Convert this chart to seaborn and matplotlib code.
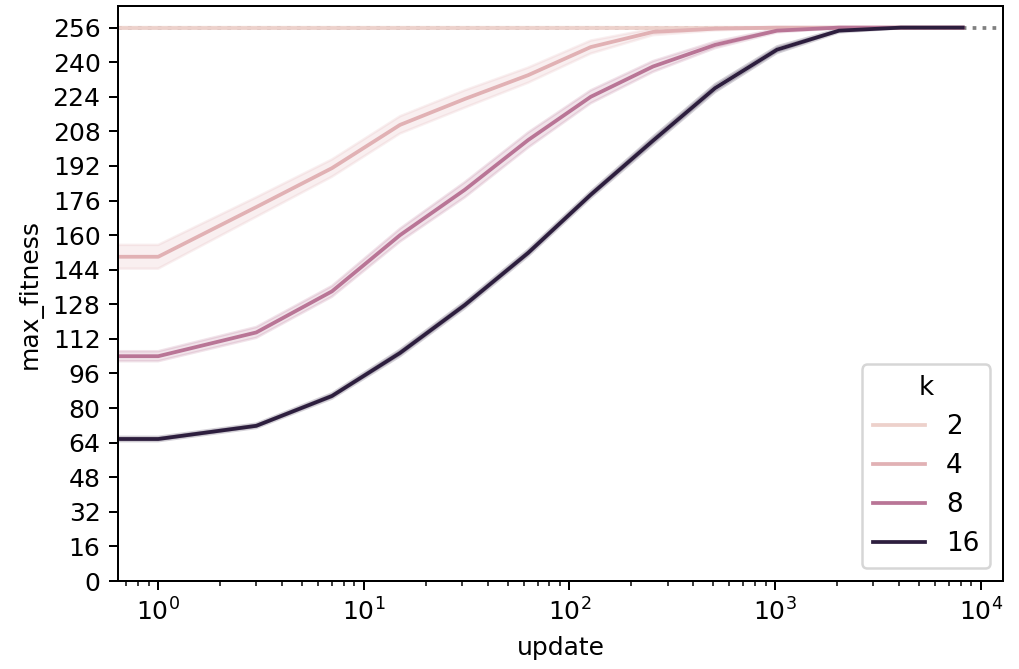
import matplotlib
matplotlib.use("Agg")
import matplotlib.pyplot as plt
import numpy as np
import pandas as pd
import seaborn as sns

# updates sampled at 2^n - 1
updates = [0, 1, 3, 7, 15, 31, 63, 127, 255, 511, 1023, 2047, 4095, 8191]

# mean max_fitness per k
fit_k2 = [256, 256, 256, 256, 256, 256, 256, 256, 256, 256, 256, 256, 256, 256]
fit_k4 = [150, 150, 173, 191, 211, 223, 234, 247, 254, 255.5, 256, 256, 256, 256]
fit_k8 = [104, 104, 115, 134, 160, 181, 204, 224, 238, 248, 254.6, 256, 256, 256]
fit_k16 = [65.7, 65.7, 71.8, 85.6, 105.5, 127.7, 151.8, 178.7, 203.7, 228, 245.8, 254.6, 256, 256]

# half-width of the shaded band per k
band_k2 = [0.4, 0.4, 0.4, 0.4, 0.4, 0.4, 0.4, 0.4, 0.3, 0.2, 0, 0, 0, 0]
band_k4 = [5.5, 5.5, 4.5, 4, 4, 4, 3.5, 3, 1.5, 0.8, 0.3, 0, 0, 0]
band_k8 = [2.3, 2.3, 2.5, 2.5, 3, 3.5, 3.5, 3, 2.5, 1.5, 0.8, 0.3, 0, 0]
band_k16 = [1, 1, 1, 1.2, 1.5, 1.5, 1.5, 1.5, 1.8, 1.8, 1.5, 0.8, 0.3, 0]

ks = [2, 4, 8, 16]
fits = [fit_k2, fit_k4, fit_k8, fit_k16]
bands = [band_k2, band_k4, band_k8, band_k16]

rows = []
for k, fit, band in zip(ks, fits, bands):
    for u, m, d in zip(updates, fit, band):
        # low / mean / high replicates: mean stays m, min-max gives the band
        for v in (m - d, m, m + d):
            rows.append({"update": u, "max_fitness": v, "k": k})
df = pd.DataFrame(rows)

fig, ax = plt.subplots(figsize=(1019 / 180, 669 / 180), dpi=180)
fig.subplots_adjust(left=0.1158, right=0.9843, bottom=0.1315, top=0.991)

ax.axhline(256, color="gray", linestyle=":", zorder=0)
sns.lineplot(data=df, x="update", y="max_fitness", hue="k",
             errorbar=("pi", 100), ax=ax)
ax.set_xscale("log")
ax.set_ylim(bottom=0)
ax.set_yticks(np.arange(0, 257, 16))
ax.legend(title="k", loc="lower right", fontsize=10.5, title_fontsize=10.5)

fig.savefig("out.png", dpi=180)
